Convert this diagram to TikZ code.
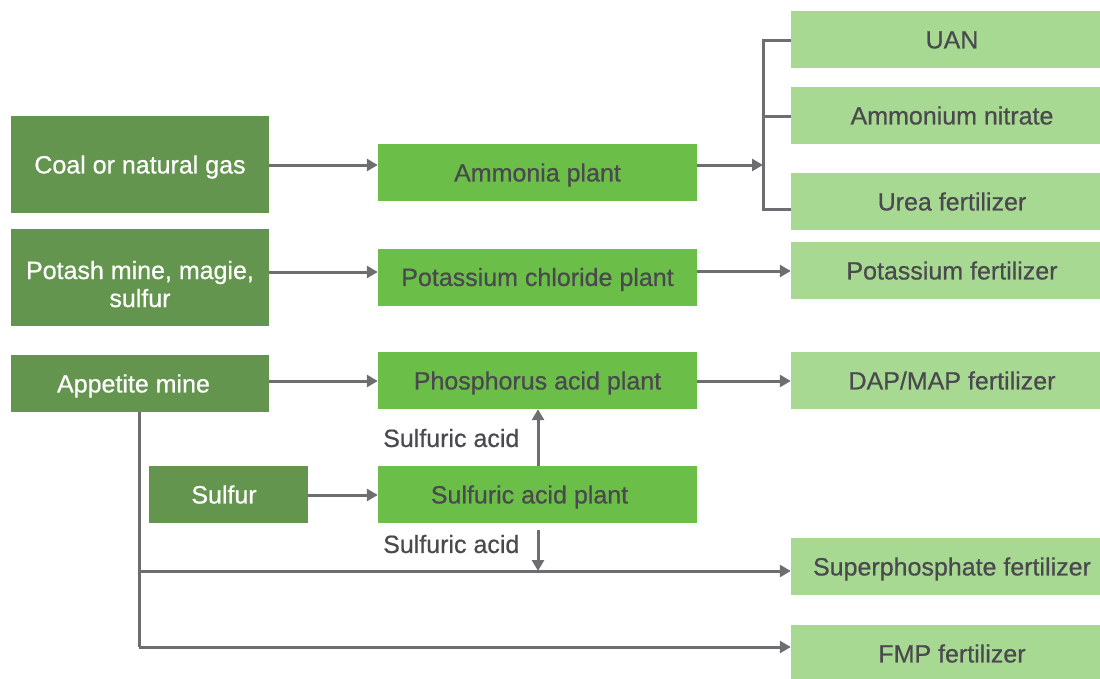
\documentclass[tikz,border=0pt]{standalone}
\usepackage{fontspec}
\setmainfont[FakeBold=0.6]{Liberation Sans}
\usetikzlibrary{arrows.meta}
\definecolor{darkg}{HTML}{64954F}
\definecolor{midg}{HTML}{6BBE48}
\definecolor{lightg}{HTML}{A8D993}
\definecolor{linec}{HTML}{6E6E72}
\definecolor{txt}{HTML}{4A4A4E}
\tikzset{
  box/.style={rectangle, inner sep=0pt, align=center, font=\fontsize{25}{28}\selectfont,
    text height=17.9pt, text depth=0pt},
  srcbox/.style={box, fill=darkg, text=white, minimum width=258pt},
  plantbox/.style={box, fill=midg, text=txt, minimum width=319pt, minimum height=57pt},
  prodbox/.style={box, fill=lightg, text=txt, minimum width=322pt, minimum height=57pt},
  conn/.style={draw=linec, line width=3pt},
  arr/.style={conn, -{Triangle[length=11pt,width=12pt]}},
  lbl/.style={text=txt, inner sep=0pt, anchor=west, font=\fontsize{25}{28}\selectfont,
    text height=17.9pt, text depth=0pt},
}
\begin{document}
\begin{tikzpicture}[x=1pt,y=-1pt]
\useasboundingbox (0,0) rectangle (1100,678);
\clip (0,0) rectangle (1100,678);
% sources
\node[srcbox, minimum height=97pt] (coal) at (140,164.5) {Coal or natural gas};
\node[srcbox, minimum height=97pt, text height=59pt, text depth=0pt] (potash) at (140,277.5) {Potash mine, magie,\\sulfur};
\node[srcbox, minimum height=57pt] (apat) at (140,383.5) {Appetite mine\hspace*{13pt}};
\node[srcbox, minimum width=159pt, minimum height=57pt] (sulfur) at (228.5,494.5) {Sulfur\hspace*{9pt}};
% plants
\node[plantbox] (ammonia) at (537.5,172.5) {Ammonia plant};
\node[plantbox] (kcl) at (537.5,277) {Potassium chloride plant};
\node[plantbox] (phos) at (537.5,380.5) {Phosphorus acid plant};
\node[plantbox] (sulfplant) at (537.5,494.5) {Sulfuric acid plant\hspace*{16pt}};
% products
\node[prodbox] (uan) at (952,39.5) {UAN};
\node[prodbox] (an) at (952,115.5) {Ammonium nitrate};
\node[prodbox] (urea) at (952,201.5) {Urea fertilizer};
\node[prodbox] (potf) at (952,270.5) {Potassium fertilizer};
\node[prodbox] (dap) at (952,380.5) {DAP/MAP fertilizer};
\node[prodbox] (sup) at (952,566.5) {Superphosphate fertilizer};
\node[prodbox] (fmp) at (952,653.5) {FMP fertilizer};
% labels
\node[lbl] (sa1) at (383,438) {Sulfuric acid};
\node[lbl] (sa2) at (383,544) {Sulfuric acid};
% helper coordinates
\coordinate (br) at (763,165);
\coordinate (brtop) at (763,40);
\coordinate (brbot) at (763,209);
\coordinate (bran) at (763,116);
\coordinate (dstart) at (538,530);
\coordinate (dend) at (538,571);
\coordinate (vtop) at (139,412);
\coordinate (vmid) at (139,571);
\coordinate (vbot) at (139,647);
% connectors
\draw[arr] (coal.east |- br) -- (ammonia.west |- br);
\draw[arr] (ammonia.east |- br) -- (br);
\draw[conn] (uan.west |- brtop) -- (brtop) -- (brbot) -- (urea.west |- brbot);
\draw[conn] (bran) -- (an.west |- bran);
\draw[arr] (potash.east |- 0,272) -- (kcl.west |- 0,272);
\draw[arr] (kcl.east |- 0,271) -- (potf.west |- 0,271);
\draw[arr] (apat.east |- 0,381) -- (phos.west |- 0,381);
\draw[arr] (phos.east |- 0,381) -- (dap.west |- 0,381);
\draw[arr] (sulfur.east |- 0,495) -- (sulfplant.west |- 0,495);
\draw[arr] (sulfplant.north -| dstart) -- (phos.south -| dstart);
\draw[arr] (dstart) -- (dend);
\draw[conn] (vtop) -- (vbot);
\draw[arr] (vmid) -- (sup.west |- vmid);
\draw[arr] (vbot) -- (fmp.west |- vbot);
\end{tikzpicture}
\end{document}
